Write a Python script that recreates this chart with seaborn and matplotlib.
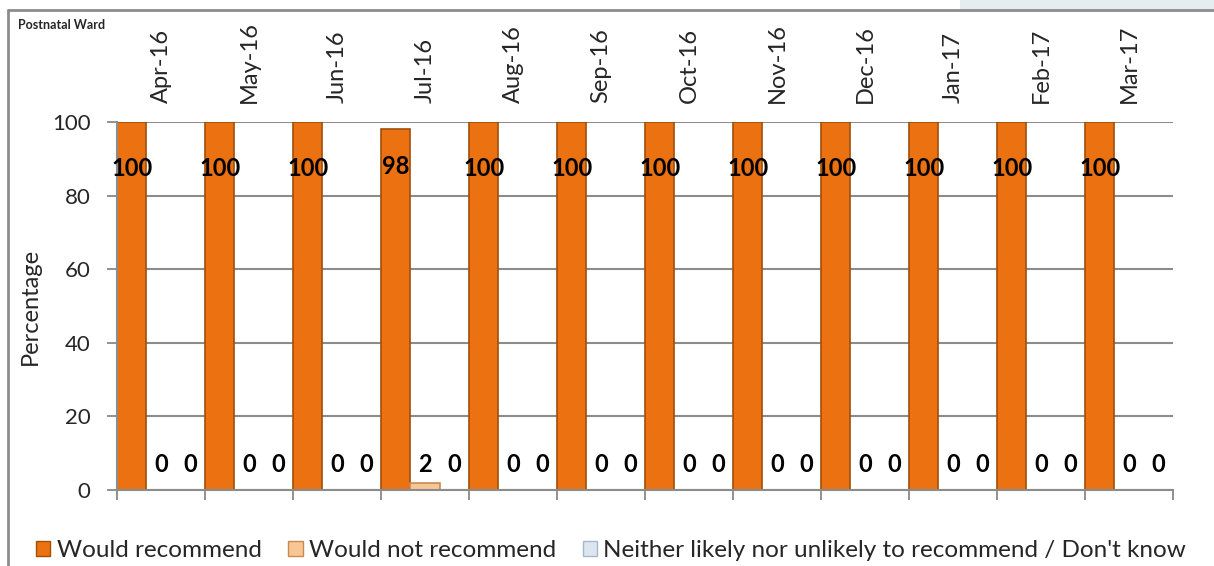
import matplotlib
matplotlib.use("Agg")
import matplotlib.pyplot as plt
import seaborn as sns
import pandas as pd
import numpy as np
from matplotlib.lines import Line2D
from matplotlib.patches import Rectangle

months = ["Apr-16", "May-16", "Jun-16", "Jul-16", "Aug-16", "Sep-16",
          "Oct-16", "Nov-16", "Dec-16", "Jan-17", "Feb-17", "Mar-17"]
would_recommend = [100, 100, 100, 98, 100, 100, 100, 100, 100, 100, 100, 100]
would_not_recommend = [0, 0, 0, 2, 0, 0, 0, 0, 0, 0, 0, 0]
neither_dont_know = [0, 0, 0, 0, 0, 0, 0, 0, 0, 0, 0, 0]
series_names = ["Would recommend", "Would not recommend",
                "Neither likely nor unlikely to recommend / Don't know"]
colors = ["#EC7211", "#F8C594", "#DCE6F0"]
edges = ["#A04E08", "#C98A52", "#A9B8C8"]

df = pd.DataFrame({
    "Month": months * 3,
    "Series": [series_names[0]] * 12 + [series_names[1]] * 12 + [series_names[2]] * 12,
    "Value": would_recommend + would_not_recommend + neither_dont_know,
})

sns.set_theme(style="white")
plt.rcParams["font.family"] = ["Lato", "DejaVu Sans"]

fig = plt.figure(figsize=(12.14, 5.66), dpi=100)
ax = fig.add_axes([117 / 1214, 1 - 490 / 566, (1173 - 117) / 1214, (490 - 122) / 566])

sns.barplot(data=df, x="Month", y="Value", hue="Series", order=months,
            hue_order=series_names, palette=colors, width=1.0, ax=ax,
            legend=False, saturation=1)

for i, cont in enumerate(ax.containers):
    for p in cont.patches:
        p.set_edgecolor(edges[i])
        p.set_linewidth(1.2)

ax.set_ylim(0, 100)
ax.set_xlim(-0.5, len(months) - 0.5)
ax.set_yticks([0, 20, 40, 60, 80, 100])
ax.tick_params(axis="y", labelsize=16, length=7, color="#888888", width=1.3,
               pad=12, left=True)
ax.yaxis.grid(True, color="#8C8C8C", linewidth=1.5)
ax.set_axisbelow(True)
ax.set_ylabel("Percentage", fontsize=17, labelpad=8)
ax.set_xlabel("")

ax.xaxis.set_ticks_position("top")
ax.set_xticks(range(len(months)))
ax.set_xticklabels(months, rotation=90, fontsize=17)
ax.tick_params(axis="x", top=True, bottom=False, length=0, labeltop=True,
               labelbottom=False, pad=14)
ax.set_xticks(np.arange(-0.5, len(months), 1.0), minor=True)
ax.tick_params(axis="x", which="minor", bottom=True, top=False, length=7,
               color="#888888", width=1.3)

for s in ["top", "right"]:
    ax.spines[s].set_visible(False)
for s in ["left", "bottom"]:
    ax.spines[s].set_color("#8C8C8C")
    ax.spines[s].set_linewidth(1.5)

offsets = [-1 / 3, 0, 1 / 3]
vals = [would_recommend, would_not_recommend, neither_dont_know]
for k in range(3):
    for i, v in enumerate(vals[k]):
        x = i + offsets[k]
        if k == 0:
            y = v - 12.5 if v >= 99.5 else v - 10
        else:
            y = 7
        ax.text(x, y, f"{v:g}", ha="center", va="center", fontsize=17,
                fontweight="bold", color="black")

handles = [Rectangle((0, 0), 1, 1, facecolor=colors[i], edgecolor=edges[i])
           for i in range(3)]
fig.legend(handles, series_names, loc="lower left", ncol=3, frameon=False,
           bbox_to_anchor=(14 / 1214, -0.03), fontsize=17.5, handlelength=0.6,
           handleheight=0.6, handletextpad=0.25, columnspacing=1.1,
           borderaxespad=0.5)

fig.text(18 / 1214, 1 - 25 / 566, "Postnatal Ward", fontsize=9,
         fontweight="bold", ha="left", va="center")

fig.patches.append(Rectangle((960 / 1214, 1 - 10 / 566), 254 / 1214, 10 / 566,
                             transform=fig.transFigure, facecolor="#E4EEF0",
                             edgecolor="none", zorder=0))
fig.lines.append(Line2D([8 / 1214, 1], [1 - 10 / 566, 1 - 10 / 566],
                        transform=fig.transFigure, color="#8C8C8C", linewidth=2))
fig.lines.append(Line2D([8 / 1214, 8 / 1214], [0, 1 - 10 / 566],
                        transform=fig.transFigure, color="#8C8C8C", linewidth=2))

fig.savefig("out.png", dpi=100)
